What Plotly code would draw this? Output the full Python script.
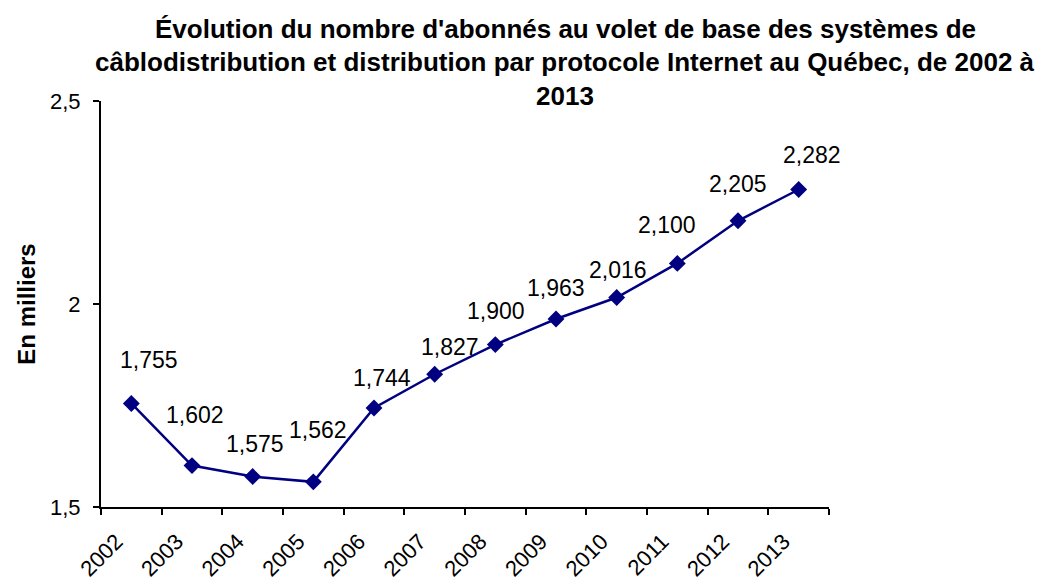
import plotly.graph_objects as go

years = ["2002", "2003", "2004", "2005", "2006", "2007", "2008", "2009", "2010", "2011", "2012", "2013"]
subscribers = [1.755, 1.602, 1.575, 1.562, 1.744, 1.827, 1.900, 1.963, 2.016, 2.100, 2.205, 2.282]
y_ticks = [1.5, 2.0, 2.5]
y_tick_labels = ["1,5", "2", "2,5"]
title_lines = [
    "Évolution du nombre d'abonnés au volet de base des systèmes de",
    "câblodistribution et distribution par protocole Internet au Québec, de 2002 à",
    "2013",
]

# label offsets (pixels) relative to each point
label_dx = [18, 3, 2, 5, 8, 15, 1, 0, 1, -10, 0, 13]
label_dy = [43, 51, 33, 52, 30, 27, 34, 31, 28, 38, 37, 35]

FONT = "Liberation Sans, Arial, sans-serif"

# page has an 8px body margin; plot area in figure pixel coordinates
OFF = 8
L, R, T, B = 101 - OFF, 829 - OFF, 101 - OFF, 507 - OFF
W, H = 1050, 584


def px_to_paper(px, py):
    return (px - L) / (R - L), (B - py) / (B - T)


fig = go.Figure()
fig.add_trace(go.Scatter(
    x=years, y=subscribers, mode="lines+markers",
    line=dict(color="#000080", width=2.5),
    marker=dict(symbol="diamond", size=13, color="#000080"),
    showlegend=False, hoverinfo="x+y",
))

annotations = []
for i, (v, dx, dy) in enumerate(zip(subscribers, label_dx, label_dy)):
    annotations.append(dict(
        x=i, y=v, xref="x", yref="y", text=f"{v:.3f}".replace(".", ","),
        showarrow=False, xshift=dx, yshift=dy,
        font=dict(family=FONT, size=23, color="black"),
    ))

title_py = [29, 62, 96]
for line, py in zip(title_lines, title_py):
    ax, ay = px_to_paper(565 - OFF, py - OFF)
    annotations.append(dict(
        x=ax, y=ay, xref="paper", yref="paper", text=f"<b>{line}</b>",
        showarrow=False, font=dict(family=FONT, size=26, color="black"),
        xanchor="center", yanchor="middle",
    ))

fig.update_layout(
    width=W, height=H,
    margin=dict(l=L, r=W - R, t=T, b=H - B, autoexpand=False),
    paper_bgcolor="white", plot_bgcolor="white",
    font=dict(family=FONT, size=22, color="black"),
    annotations=annotations,
)
fig.update_xaxes(
    type="category", range=[-0.5, 11.5], tickson="boundaries",
    ticks="outside", ticklen=6, tickwidth=2, tickcolor="black",
    showline=True, linecolor="black", linewidth=2, showgrid=False,
    tickangle=-45, tickfont=dict(family=FONT, size=22, color="black"),
    zeroline=False, ticklabelstandoff=11, ticklabelshift=-15, automargin=False,
)
fig.update_yaxes(
    range=[1.5, 2.5], tickvals=y_ticks, ticktext=y_tick_labels,
    ticks="outside", ticklen=6, tickwidth=2, tickcolor="black",
    showline=True, linecolor="black", linewidth=2, showgrid=False,
    zeroline=False, tickfont=dict(family=FONT, size=22, color="black"),
    ticklabelstandoff=8, automargin=False,
    title=dict(text="<b>En milliers</b>", font=dict(family=FONT, size=24, color="black"), standoff=8),
)

fig.write_html("out.html")
